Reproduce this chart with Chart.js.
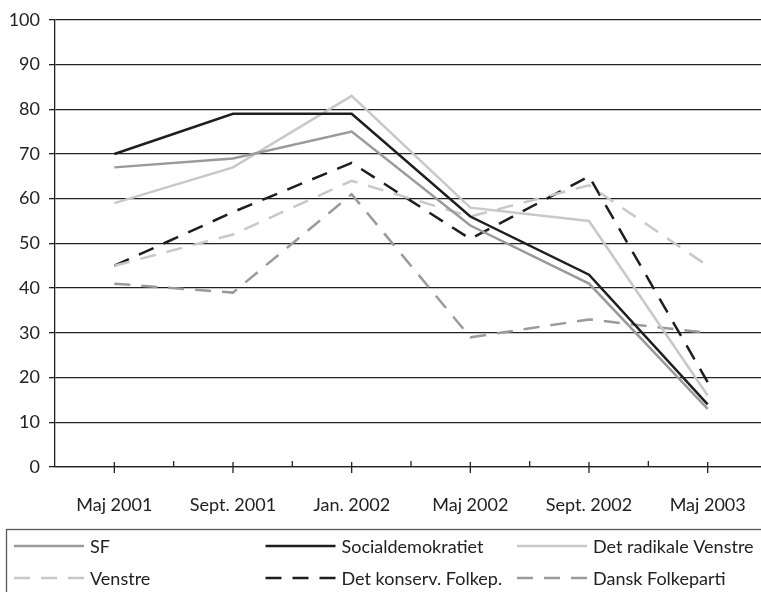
<!DOCTYPE html>
<html>
<head>
<meta charset="utf-8">
<script src="https://cdn.jsdelivr.net/npm/chart.js@4"></script>
<style>
  html, body { margin: 0; padding: 0; background: #fff; }
  #wrap { width: 761px; height: 592px; overflow: hidden; }
</style>
</head>
<body>
<div id="wrap"><canvas id="myChart" width="767" height="592"></canvas></div>
<script>
// data
var labels = ['Maj 2001', 'Sept. 2001', 'Jan. 2002', 'Maj 2002', 'Sept. 2002', 'Maj 2003'];
var sf = [67, 69, 75, 54, 41, 13];
var socialdemokratiet = [70, 79, 79, 56, 43, 14];
var radikaleVenstre = [59, 67, 83, 58, 55, 16];
var venstre = [45, 52, 64, 56, 63, 45];
var konservative = [45, 57, 68, 51, 65, 19];
var danskFolkeparti = [41, 39, 61, 29, 33, 30];

var dash = [16, 11];
var ink = '#222';

Chart.defaults.font.family = 'Lato';
Chart.defaults.font.size = 18;
Chart.defaults.color = ink;

function line(label, data, color, dashed) {
  return {
    label: label,
    data: data,
    borderColor: color,
    backgroundColor: 'transparent',
    borderWidth: 2.5,
    borderDash: dashed ? dash : [],
    pointRadius: 0,
    tension: 0,
    fill: false
  };
}

// tick marks on the x axis (at labels and between them)
var axisTicks = {
  id: 'axisTicks',
  afterDraw: function(chart) {
    var ctx = chart.ctx, x = chart.scales.x, y0 = chart.chartArea.bottom;
    ctx.save();
    ctx.strokeStyle = ink;
    ctx.lineWidth = 1.3;
    for (var i = 0; i < labels.length; i++) {
      var px = x.getPixelForTick(i);
      ctx.beginPath(); ctx.moveTo(px, y0 - 5); ctx.lineTo(px, y0 + 6); ctx.stroke();
      if (i > 0) {
        var mid = (px + x.getPixelForTick(i - 1)) / 2;
        ctx.beginPath(); ctx.moveTo(mid, y0 - 6); ctx.lineTo(mid, y0); ctx.stroke();
      }
    }
    ctx.restore();
  }
};

// boxed legend, three columns
var boxLegend = {
  id: 'boxLegend',
  afterDraw: function(chart) {
    var ctx = chart.ctx;
    ctx.save();
    ctx.strokeStyle = '#555';
    ctx.lineWidth = 1.3;
    ctx.strokeRect(6.5, 529.5, 800, 100);
    chart.data.datasets.forEach(function(ds, i) {
      var x = 14 + (i % 3) * 251.5;
      var y = 546 + Math.floor(i / 3) * 32;
      ctx.strokeStyle = ds.borderColor;
      ctx.lineWidth = ds.borderWidth;
      ctx.setLineDash(ds.borderDash);
      ctx.beginPath(); ctx.moveTo(x, y); ctx.lineTo(x + 70, y); ctx.stroke();
      ctx.setLineDash([]);
      ctx.fillStyle = ink;
      ctx.font = '18px Lato';
      ctx.textBaseline = 'middle';
      ctx.fillText(ds.label, x + 76, y + 1);
    });
    ctx.restore();
  }
};

var ctx = document.getElementById('myChart').getContext('2d');
var chart = new Chart(ctx, {
  type: 'line',
  data: {
    labels: labels,
    datasets: [
      line('SF', sf, '#9a9a9a', false),
      line('Socialdemokratiet', socialdemokratiet, '#1e1e1e', false),
      line('Det radikale Venstre', radikaleVenstre, '#c8c8c8', false),
      line('Venstre', venstre, '#c8c8c8', true),
      line('Det konserv. Folkep.', konservative, '#1e1e1e', true),
      line('Dansk Folkeparti', danskFolkeparti, '#9a9a9a', true)
    ]
  },
  options: {
    responsive: false,
    animation: false,
    layout: { padding: { top: 19, left: 0, right: 0, bottom: 0 } },
    plugins: {
      legend: { display: false },
      tooltip: { enabled: false }
    },
    scales: {
      x: {
        offset: true,
        grid: { display: false },
        border: { display: true, color: ink, width: 1.3 },
        ticks: { padding: 19, maxRotation: 0, autoSkip: false },
        afterFit: function(scale) { scale.height = 125; }
      },
      y: {
        min: 0,
        max: 100,
        ticks: { stepSize: 10, padding: 9 },
        grid: { color: ink, lineWidth: 1.3, tickLength: 6 },
        border: { display: true, color: ink, width: 1.3 },
        afterFit: function(scale) { scale.width = 55; }
      }
    }
  },
  plugins: [axisTicks, boxLegend]
});
</script>
</body>
</html>
